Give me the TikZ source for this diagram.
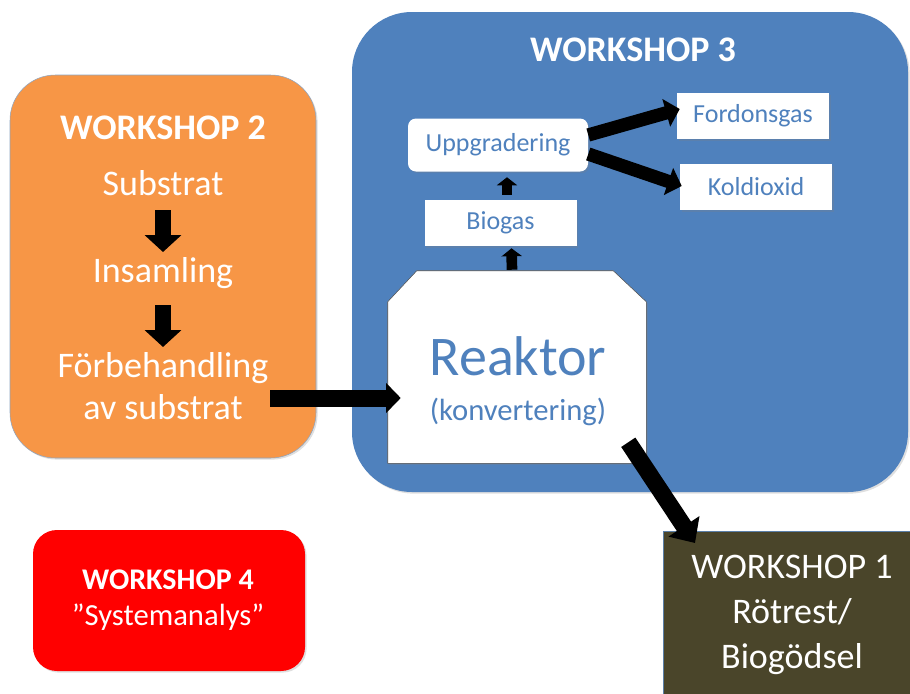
\documentclass[tikz,border=0pt]{standalone}
\usepackage{fontspec}
\setmainfont{Carlito}
\usetikzlibrary{arrows.meta,calc,shadows}
\definecolor{wsorange}{HTML}{F79646}
\definecolor{wsblue}{HTML}{4F81BD}
\definecolor{wsbrown}{HTML}{4A452A}
\definecolor{wsred}{HTML}{FF0000}
\definecolor{wstext}{HTML}{4F81BD}
\definecolor{wsedge}{HTML}{5B7FA8}
\tikzset{
  softshadow/.style={drop shadow={opacity=0.25,shadow xshift=1.2pt,shadow yshift=-1.2pt}},
  bigbox/.style={inner sep=0pt,softshadow},
  title/.style={text=white,font=\bfseries\fontsize{27}{31}\selectfont,inner sep=0pt},
  wtext/.style={text=white,font=\fontsize{27}{31.5}\selectfont,inner sep=0pt,align=center},
  smallbox/.style={fill=white,inner sep=0pt,text=wstext,font=\fontsize{19.5}{22}\selectfont,minimum width=114pt,minimum height=34.5pt,softshadow},
  arrowA/.style={draw=black,line width=12pt,-{Triangle[width=27pt,length=12.75pt]}},
  arrowH/.style={draw=black,line width=12.75pt,-{Triangle[width=22pt,length=11pt]}},
  arrowS/.style={draw=black,line width=8pt,-{Triangle[width=15pt,length=6pt]}},
  arrowU/.style={draw=black,line width=10pt,-{Triangle[width=21pt,length=10.5pt]}},
  arrowD/.style={draw=black,line width=12.75pt,-{Triangle[width=27pt,length=15pt]}},
}
\begin{document}
\begin{tikzpicture}[x=0.75pt,y=-0.75pt]
\useasboundingbox (0,0) rectangle (910,693);
% big boxes
\node[bigbox,fill=wsorange,draw=wsedge!70,thin,rounded corners=34pt,minimum width=229.5pt,minimum height=287.25pt] (ws2box) at (163,266.5) {};
\node[bigbox,fill=wsblue,rounded corners=45pt,minimum width=417pt,minimum height=360pt] (ws3box) at (630,252) {};
\node[bigbox,fill=wsred,rounded corners=18pt,minimum width=204pt,minimum height=105.75pt] (ws4box) at (169,600.5) {};
\node[inner sep=0pt,fill=wsbrown,draw=wsedge,thin,anchor=north west,minimum width=200pt,minimum height=130pt] (ws1box) at (663,531) {};
% workshop 2 content
\node[title] (ws2) at (163,128) {WORKSHOP 2};
\node[wtext] (sub) at (163,183) {Substrat};
\node[wtext] (ins) at (163,273) {Insamling};
\node[wtext] (forb) at (163,386) {Förbehandling\\av substrat};
\draw[arrowA,shorten <=20.25pt,shorten >=15.75pt] (sub.center) -- (ins.center);
\draw[arrowA,shorten <=24pt,shorten >=29.25pt] (ins.center) -- (forb.center);
% workshop 3 content
\node[title] (ws3) at (633,50) {WORKSHOP 3};
\node[inner sep=0pt,minimum width=193.5pt,minimum height=144pt] (reactor) at (517,367) {};
\draw[fill=white,draw=black!70,thin,softshadow]
  ($(reactor.north west)+(0,31)$) -- ($(reactor.north west)+(29,0)$) --
  ($(reactor.north east)+(-33,0)$) -- ($(reactor.north east)+(0,31)$) --
  (reactor.south east) -- (reactor.south west) -- cycle;
\node[text=wstext,font=\fontsize{42}{48}\selectfont,inner sep=0pt] (reaktxt) at (518,356) {Reaktor};
\node[text=wstext,font=\fontsize{23}{27}\selectfont,inner sep=0pt] (konvtxt) at (518,412) {(konvertering)};
\node[smallbox,minimum width=135pt,minimum height=39.75pt,rounded corners=6pt] (upp) at (498,145) {Uppgradering};
\node[smallbox] (bio) at (500.5,223) {Biogas};
\node[smallbox] (ford) at (753,116) {Fordonsgas};
\node[smallbox] (kol) at (756,187) {Koldioxid};
\draw[arrowS] ($(bio.north)+(6.5,-5)$) -- ($(upp.south)+(9,5.5)$);
\draw[arrowS] ($(reactor.north)+(-5,-1)$) -- ($(bio.south)+(11,2)$);
\draw[arrowU] ($(upp.east)+(0,-10)$) -- ($(ford.west)+(3,-7)$);
\draw[arrowU] ($(upp.east)+(0,9)$) -- ($(kol.west)+(2,-1)$);
% connections between workshops
\draw[arrowH] ($(forb.center)+(107,12)$) -- ($(reactor.west)+(13,31)$);
\draw[arrowD] ($(reactor.south east)+(-18,-21)$) -- ($(ws1box.north west)+(32,12)$);
% workshop 1
\node[text=white,font=\fontsize{27}{34}\selectfont,inner sep=0pt,align=center] (ws1) at (792,615) {WORKSHOP 1\\Rötrest/\\Biogödsel};
% workshop 4
\node[text=white,font=\bfseries\fontsize{22.5}{27}\selectfont,inner sep=0pt] (ws4) at (168,580) {WORKSHOP 4};
\node[text=white,font=\fontsize{23}{27}\selectfont,inner sep=0pt] (sysan) at (168,617) {”Systemanalys”};
\end{tikzpicture}
\end{document}
